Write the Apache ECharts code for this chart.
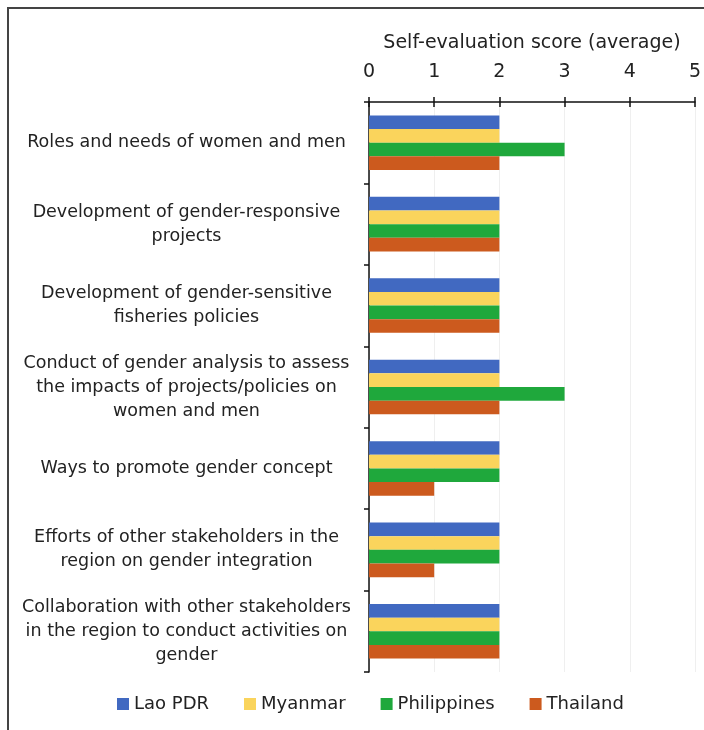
<!DOCTYPE html>
<html>
<head>
<meta charset="utf-8">
<script src="https://cdn.jsdelivr.net/npm/echarts@6/dist/echarts.min.js"></script>
<style>
  html, body { margin: 0; padding: 0; background: #fff; }
  #chart { width: 704px; height: 730px; }
</style>
</head>
<body>
<div id="chart"></div>
<script>
var categories = [
    'Roles and needs of women and men',
    'Development of gender-responsive\nprojects',
    'Development of gender-sensitive\nfisheries policies',
    'Conduct of gender analysis to assess\nthe impacts of projects/policies on\nwomen and men',
    'Ways to promote gender concept',
    'Efforts of other stakeholders in the\nregion on gender integration',
    'Collaboration with other stakeholders\nin the region to conduct activities on\ngender'
];
var seriesNames = ['Lao PDR', 'Myanmar', 'Philippines', 'Thailand'];
var laoPdr = [2, 2, 2, 2, 2, 2, 2];
var myanmar = [2, 2, 2, 2, 2, 2, 2];
var philippines = [3, 2, 2, 3, 2, 2, 2];
var thailand = [2, 2, 2, 2, 1, 1, 2];
var xTicks = [0, 1, 2, 3, 4, 5];
var colors = ['#4169c1', '#fad45c', '#1fa83c', '#cc5a1e'];

var myChart = echarts.init(document.getElementById('chart'));
var font = 'DejaVu Sans';
var values = [laoPdr, myanmar, philippines, thailand];

var option = {
    backgroundColor: '#ffffff',
    animation: false,
    color: colors,
    textStyle: { fontFamily: font },
    grid: { left: 369, right: 7, top: 102, bottom: 58 },
    legend: {
        bottom: 12,
        left: 112,
        itemWidth: 12,
        itemHeight: 12,
        itemGap: 35,
        icon: 'rect',
        textStyle: { fontSize: 18, color: '#222', fontFamily: font },
        data: seriesNames
    },
    xAxis: [{
        type: 'value',
        position: 'top',
        min: xTicks[0],
        max: xTicks[xTicks.length - 1],
        interval: 1,
        name: 'Self-evaluation score (average)',
        nameLocation: 'middle',
        nameGap: 49,
        nameTextStyle: { fontSize: 19, color: '#222' },
        axisLine: { show: true, lineStyle: { color: '#111', width: 1.5 } },
        axisTick: { show: true, length: 5, lineStyle: { color: '#111', width: 1.5 } },
        axisLabel: { fontSize: 19, color: '#222', margin: 20 },
        splitLine: { show: true, lineStyle: { color: '#efefef' } }
    }, {
        type: 'value',
        position: 'top',
        min: xTicks[0],
        max: xTicks[xTicks.length - 1],
        interval: 1,
        axisLine: { show: false },
        axisTick: { show: true, inside: true, length: 5, lineStyle: { color: '#111', width: 1.5 } },
        axisLabel: { show: false },
        splitLine: { show: false }
    }],
    yAxis: {
        type: 'category',
        inverse: true,
        data: categories,
        axisLine: { show: true, lineStyle: { color: '#111', width: 1.5 } },
        axisTick: { show: true, length: 5, lineStyle: { color: '#111', width: 1.5 } },
        axisLabel: {
            margin: 10,
            align: 'right',
            fontSize: 17.5,
            color: '#222',
            formatter: function (v) { return '{c|' + v.split('\n').join('}\n{c|') + '}'; },
            rich: { c: { width: 345, align: 'center', fontSize: 17.5, lineHeight: 24, color: '#222', fontFamily: font } }
        }
    },
    series: seriesNames.map(function (name, i) {
        return {
            name: name,
            type: 'bar',
            data: values[i],
            barGap: '0%',
            barCategoryGap: '33%'
        };
    }),
    graphic: [{
        type: 'polyline',
        shape: { points: [[8, 730], [8, 8], [704, 8]] },
        style: { stroke: '#444', lineWidth: 2, fill: null }
    }]
};

myChart.setOption(option);
window.addEventListener('resize', function () {
    myChart.resize();
});
</script>
</body>
</html>
